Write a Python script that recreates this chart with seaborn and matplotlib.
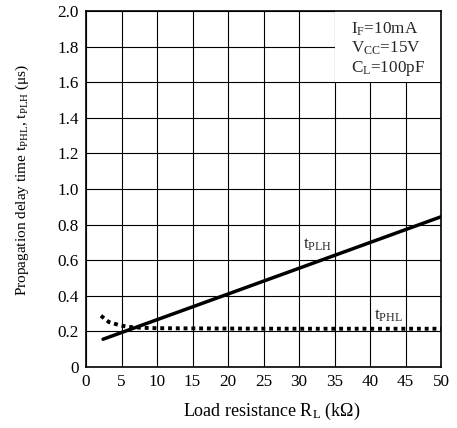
import matplotlib
matplotlib.use("Agg")
import matplotlib.pyplot as plt
import seaborn as sns
import pandas as pd
from matplotlib.patches import Rectangle

# data
rl_plh = [2.4, 20, 50]
t_plh = [0.156, 0.41, 0.844]
rl_phl = [2.1, 3.2, 4.7, 6, 8, 10, 20, 30, 40, 50]
t_phl = [0.288, 0.253, 0.235, 0.225, 0.220, 0.218, 0.216, 0.215, 0.215, 0.215]
x_ticks = [0, 5, 10, 15, 20, 25, 30, 35, 40, 45, 50]
y_ticks = [0, 0.2, 0.4, 0.6, 0.8, 1.0, 1.2, 1.4, 1.6, 1.8, 2.0]
y_tick_labels = ["0", "0.2", "0.4", "0.6", "0.8", "1.0", "1.2", "1.4", "1.6", "1.8", "2.0"]
cond_lines = ["I$_{\\mathrm{F}}$=10mA", "V$_{\\mathrm{CC}}$=15V", "C$_{\\mathrm{L}}$=100pF"]

sns.set_theme(style="whitegrid")
plt.rcParams["font.family"] = ["Liberation Serif", "DejaVu Serif"]
plt.rcParams["mathtext.fontset"] = "custom"
plt.rcParams["mathtext.rm"] = "Liberation Serif"
plt.rcParams["mathtext.it"] = "Liberation Serif:italic"
plt.rcParams["mathtext.bf"] = "Liberation Serif:bold"

FS = 12.3

fig = plt.figure(figsize=(4.57, 4.28), dpi=100)
ax = fig.add_axes([86/457, 1 - 367/428, (441-86)/457, (367-11)/428])

df_plh = pd.DataFrame({"x": rl_plh, "y": t_plh})
df_phl = pd.DataFrame({"x": rl_phl, "y": t_phl})
sns.lineplot(data=df_plh, x="x", y="y", ax=ax, color="black", linewidth=2.5, zorder=3)
sns.lineplot(data=df_phl, x="x", y="y", ax=ax, color="black", linewidth=2.8, zorder=3,
             dashes=False)
ax.lines[-1].set_dashes([1, 1])

ax.set_xlim(0, 50)
ax.set_ylim(0, 2.0)
ax.set_xticks(x_ticks)
ax.set_yticks(y_ticks)
ax.set_yticklabels(y_tick_labels)
ax.tick_params(axis="both", length=0, labelsize=FS, colors="black", pad=5)
ax.grid(True, color="black", linewidth=0.8)
for s in ax.spines.values():
    s.set_color("black")
    s.set_linewidth(1.2)
    s.set_zorder(4)

ax.add_patch(Rectangle((35, 1.6), 15, 0.4, facecolor="white", edgecolor="none", zorder=1))

for i, t in enumerate(cond_lines):
    ax.text(37.3, 1.90 - i * 0.112, t, fontsize=FS, va="center", ha="left", zorder=5)

ax.text(30.5, 0.685, "t$_{\\mathrm{PLH}}$", fontsize=FS, va="center", ha="left", zorder=5)
ax.text(40.6, 0.29, "t$_{\\mathrm{PHL}}$", fontsize=FS, va="center", ha="left", zorder=5)

ax.set_xlabel("Load resistance R$_{\\mathrm{L}}$ (k\u03a9)", fontsize=13, color="black")
ax.xaxis.set_label_coords(0.524, -0.095)
ax.set_ylabel("Propagation delay time t$_{\\mathrm{PHL}}$, t$_{\\mathrm{PLH}}$ (\u03bcs)", fontsize=11.0,
              color="black")
ax.yaxis.set_label_coords(-0.155, 0.525)

fig.savefig("out.png", dpi=100, facecolor="white")
